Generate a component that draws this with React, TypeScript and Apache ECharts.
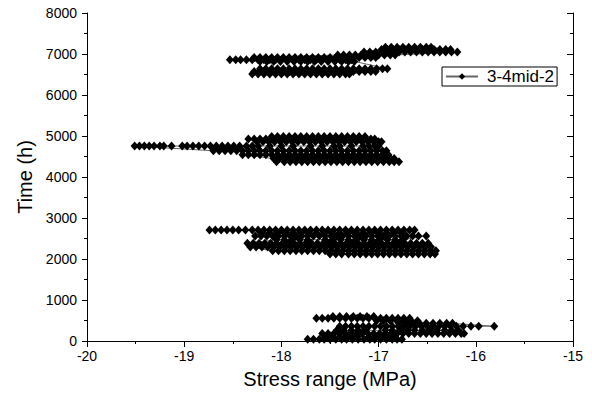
import React, { useEffect, useRef } from "react";
import * as echarts from "echarts";

const seriesName = "3-4mid-2";
const xTicks = { min: -20, max: -15, interval: 1 };
const yTicks = { min: 0, max: 8000, interval: 1000 };

// Each band: [time (h), stress range values (MPa)]
const cluster1: [number, number[]][] = [
  [40, [-17.73, -17.67, -17.61, -17.56, -17.5, -17.44, -17.38, -17.33, -17.27, -17.21, -17.15, -17.09, -17.04, -16.98, -16.92, -16.86, -16.81, -16.76]],
  [105, [-17.53, -17.47, -17.4, -17.34, -17.28, -17.22, -17.1, -17.03, -16.96, -16.89, -16.83]],
  [185, [-17.58, -17.52, -17.46, -17.4, -17.34, -17.29, -17.23, -17.17, -17.11, -17.05, -16.99, -16.93, -16.87, -16.81, -16.75, -16.69, -16.63, -16.57, -16.51, -16.45, -16.39, -16.33, -16.27, -16.21, -16.15, -16.12]],
  [260, [-17.43, -17.36, -17.28, -17.21, -17.14, -16.93, -16.86, -16.78, -16.7, -16.63, -16.55, -16.47, -16.4, -16.32, -16.25, -16.18]],
  [360, [-17.4, -17.34, -17.28, -17.22, -17.16, -17.1, -17.04, -16.98, -16.92, -16.86, -16.8, -16.74, -16.68, -16.62, -16.56, -16.5, -16.44, -16.38, -16.32, -16.26, -16.2, -16.13, -16.05, -15.97, -15.81]],
  [430, [-16.79, -16.72, -16.65, -16.58, -16.51, -16.44, -16.37, -16.3, -16.24]],
  [495, [-17.02, -16.95, -16.88, -16.81, -16.74, -16.67, -16.6]],
  [555, [-17.64, -17.58, -17.52, -17.46, -17.4, -17.34, -17.28, -17.22, -17.16, -17.1, -17.04, -16.98, -16.92, -16.86, -16.8, -16.74, -16.68]],
  [595, [-17.47, -17.4, -17.33, -17.26, -17.19, -17.12, -17.05]],
];

const cluster2: [number, number[]][] = [
  [2120, [-17.5, -17.44, -17.38, -17.31, -17.25, -17.19, -17.13, -17.07, -17.01, -16.95, -16.89, -16.83, -16.77, -16.71, -16.65, -16.59, -16.53, -16.47, -16.42]],
  [2200, [-18.09, -18.03, -17.97, -17.91, -17.85, -17.79, -17.73, -17.67, -17.61, -17.55, -17.49, -17.43, -17.37, -17.31, -17.25, -17.19, -17.13, -17.07, -17.01, -16.95, -16.89, -16.83, -16.77, -16.71, -16.65, -16.59, -16.53, -16.47, -16.41]],
  [2290, [-18.32, -18.26, -18.2, -18.14, -18.08, -18.02, -17.96, -17.9, -17.84, -17.78, -17.72, -17.66, -17.6, -17.54, -17.48, -17.42, -17.36, -17.3, -17.24, -17.18, -17.12, -17.06, -17.0, -16.94, -16.88, -16.82, -16.76, -16.7, -16.64, -16.58, -16.52, -16.46]],
  [2385, [-18.35, -18.29, -18.23, -18.17, -18.11, -18.05, -17.99, -17.93, -17.87, -17.81, -17.75, -17.69, -17.63, -17.57, -17.51, -17.45, -17.39, -17.33, -17.27, -17.21, -17.15, -17.09, -17.03, -16.97, -16.91, -16.85, -16.79, -16.73, -16.67, -16.61, -16.55, -16.49]],
  [2470, [-18.05, -17.97, -17.89, -17.81, -17.73, -17.55, -17.47, -17.39, -17.31, -17.23, -17.15, -17.07, -16.99, -16.91, -16.83, -16.75]],
  [2560, [-18.27, -18.21, -18.15, -18.09, -18.03, -17.97, -17.91, -17.85, -17.79, -17.73, -17.67, -17.61, -17.55, -17.49, -17.43, -17.37, -17.31, -17.25, -17.19, -17.13, -17.07, -17.01, -16.95, -16.89, -16.83, -16.77, -16.71, -16.65, -16.59, -16.51]],
  [2635, [-18.2, -18.12, -18.04, -17.96, -17.88, -17.8, -17.72, -17.64, -17.56, -17.48, -17.4, -17.32, -17.24, -17.16, -17.08, -17.0, -16.92, -16.84, -16.76]],
  [2705, [-18.74, -18.68, -18.62, -18.56, -18.5, -18.44, -18.37, -18.3, -18.24, -18.18, -18.12, -18.06, -18.0, -17.94, -17.88, -17.82, -17.76, -17.7, -17.64, -17.58, -17.52, -17.46, -17.4, -17.34, -17.28, -17.22, -17.16, -17.1, -17.04, -16.98, -16.92, -16.86, -16.8, -16.74, -16.68, -16.63]],
];

const cluster3: [number, number[]][] = [
  [4375, [-18.05, -17.97, -17.91, -17.85, -17.79, -17.73, -17.67, -17.61, -17.55, -17.49, -17.43, -17.37, -17.31, -17.25, -17.19, -17.13, -17.07, -17.01, -16.95, -16.89, -16.84, -16.79]],
  [4450, [-18.08, -18.02, -17.96, -17.9, -17.84, -17.78, -17.72, -17.66, -17.6, -17.54, -17.48, -17.42, -17.36, -17.3, -17.24, -17.18, -17.12, -17.06, -17.0, -16.94, -16.88, -16.84]],
  [4540, [-18.4, -18.34, -18.28, -18.22, -18.16, -18.1, -18.04, -17.98, -17.92, -17.86, -17.8, -17.74, -17.68, -17.62, -17.56, -17.5, -17.44, -17.38, -17.32, -17.26, -17.2, -17.14, -17.08, -17.02, -16.96, -16.9]],
  [4640, [-18.7, -18.64, -18.58, -18.52, -18.46, -18.4, -18.34, -18.28, -18.22, -18.16, -18.1, -18.04, -17.98, -17.92, -17.86, -17.8, -17.74, -17.68, -17.62, -17.56, -17.5, -17.44, -17.38, -17.32, -17.26, -17.2, -17.14, -17.08, -17.02, -16.96, -16.92]],
  [4755, [-19.51, -19.46, -19.41, -19.36, -19.31, -19.25, -19.21, -19.13, -19.02, -18.97, -18.91, -18.85, -18.79, -18.73, -18.67, -18.61, -18.55, -18.49, -18.43, -18.36, -18.3, -18.24, -18.12, -18.0, -17.88, -17.7, -17.58, -17.46, -17.4, -17.28, -17.16, -17.1, -17.04, -17.0]],
  [4860, [-18.25, -18.19, -18.13, -18.07, -18.01, -17.95, -17.89, -17.83, -17.77, -17.71, -17.65, -17.59, -17.53, -17.47, -17.41, -17.35, -17.29, -17.23, -17.17, -17.11, -17.05, -17.0, -16.97]],
  [4925, [-18.34, -18.28, -18.22, -18.16, -18.1, -18.04, -17.98, -17.92, -17.86, -17.8, -17.74, -17.68, -17.62, -17.56, -17.5, -17.44, -17.38, -17.32, -17.26, -17.2, -17.14, -17.08, -17.04]],
  [4990, [-18.1, -18.04, -17.98, -17.92, -17.86, -17.8, -17.74, -17.68, -17.62, -17.56, -17.5, -17.44, -17.38, -17.32, -17.26, -17.2, -17.14]],
];

const cluster4: [number, number[]][] = [
  [6515, [-18.3, -18.24, -18.18, -18.12, -18.06, -18.0, -17.94, -17.88, -17.82, -17.76, -17.7, -17.64, -17.58, -17.52, -17.46, -17.4, -17.34, -17.3]],
  [6575, [-18.28, -18.22, -18.16, -18.1, -18.04, -17.98, -17.92, -17.86, -17.8, -17.74, -17.68, -17.62, -17.56, -17.5, -17.44, -17.38, -17.32, -17.26, -17.2, -17.14, -17.08, -17.03]],
  [6640, [-18.22, -18.16, -18.1, -18.04, -17.98, -17.92, -17.86, -17.8, -17.74, -17.68, -17.62, -17.56, -17.5, -17.44, -17.38, -17.32, -17.26, -17.2, -17.14, -17.08, -17.02, -16.96, -16.91]],
  [6820, [-18.22, -18.15, -18.08, -18.01, -17.94, -17.87, -17.8, -17.73, -17.66, -17.59, -17.52, -17.45, -17.38, -17.31, -17.25]],
  [6860, [-18.53, -18.47, -18.42, -18.36, -18.3, -18.24, -18.18, -18.12, -18.06, -18.0, -17.94, -17.88, -17.82, -17.76, -17.7, -17.64, -17.58, -17.52, -17.46, -17.4, -17.34, -17.28]],
  [6915, [-18.28, -18.22, -18.16, -18.1, -18.04, -17.98, -17.92, -17.86, -17.8, -17.74, -17.68, -17.62, -17.56, -17.5, -17.44, -17.38, -17.32, -17.26, -17.2, -17.14, -17.08, -17.03]],
  [6975, [-17.42, -17.36, -17.3, -17.24, -17.18, -17.12, -17.06, -17.0, -16.94, -16.88, -16.83]],
  [7050, [-17.15, -17.09, -17.03, -16.97, -16.91, -16.85, -16.79, -16.73, -16.67, -16.61, -16.55, -16.49, -16.43, -16.37, -16.31, -16.25, -16.19]],
  [7110, [-16.97, -16.91, -16.85, -16.79, -16.73, -16.67, -16.61, -16.55, -16.49, -16.43, -16.37, -16.31, -16.26]],
  [7165, [-16.93, -16.87, -16.81, -16.75, -16.69, -16.63, -16.57, -16.51, -16.46]],
];

const clusters = [cluster1, cluster2, cluster3, cluster4];

function toPoints(bands: [number, number[]][]): number[][] {
  const pts: number[][] = [];
  bands.forEach(([t, stresses], i) => {
    const ordered = i % 2 === 0 ? stresses : [...stresses].reverse();
    ordered.forEach((s) => pts.push([s, t]));
  });
  return pts;
}

const FONT = "'Liberation Sans', Arial, sans-serif";

export default function App() {
  const ref = useRef<HTMLDivElement>(null);
  useEffect(() => {
    if (!ref.current) return;
    const chart = echarts.init(ref.current, undefined, { renderer: "svg" });
    const axisLine = { show: true, lineStyle: { color: "#000", width: 1 } };
    const plain = (v: number) => String(v);
    const series = clusters.map((c) => ({
      name: seriesName,
      type: "line",
      data: toPoints(c),
      symbol: "diamond",
      symbolSize: [8, 9],
      showAllSymbol: true,
      itemStyle: { color: "#000" },
      lineStyle: { color: "#666", width: 1 },
      emphasis: { disabled: true },
    }));
    chart.setOption({
      animation: false,
      textStyle: { fontFamily: FONT },
      grid: { left: 87, right: 19, top: 13, bottom: 56, containLabel: false },
      legend: {
        data: [seriesName],
        left: 442,
        top: 67,
        borderColor: "#000",
        borderWidth: 1,
        borderRadius: 0,
        padding: [1, 3, 1, 3],
        itemWidth: 32,
        itemHeight: 8,
        textStyle: { fontFamily: FONT, fontSize: 17, color: "#000", padding: [0, 0, 0, 4] },
      },
      xAxis: [
        {
          type: "value",
          position: "bottom",
          min: xTicks.min,
          max: xTicks.max,
          interval: xTicks.interval,
          name: "Stress range (MPa)",
          nameLocation: "middle",
          nameGap: 28,
          nameTextStyle: { fontFamily: FONT, fontSize: 20, color: "#000" },
          axisLine,
          axisTick: { show: true, inside: false, length: 5, lineStyle: { color: "#000" } },
          minorTick: { show: true, splitNumber: 2, length: 3, lineStyle: { color: "#000" } },
          axisLabel: { fontFamily: FONT, fontSize: 14, color: "#000", margin: 8, formatter: plain },
          splitLine: { show: false },
        },
        {
          type: "value",
          position: "top",
          min: xTicks.min,
          max: xTicks.max,
          interval: xTicks.interval,
          axisLine,
          axisTick: { show: true, inside: true, length: 6, lineStyle: { color: "#000" } },
          minorTick: { show: true, splitNumber: 2, length: 3, lineStyle: { color: "#000" } },
          axisLabel: { show: false },
          splitLine: { show: false },
        },
      ],
      yAxis: [
        {
          type: "value",
          position: "left",
          min: yTicks.min,
          max: yTicks.max,
          interval: yTicks.interval,
          name: "Time (h)",
          nameLocation: "middle",
          nameGap: 46,
          nameTextStyle: { fontFamily: FONT, fontSize: 20, color: "#000" },
          axisLine,
          axisTick: { show: true, inside: false, length: 5, lineStyle: { color: "#000" } },
          minorTick: { show: true, splitNumber: 2, length: 3, lineStyle: { color: "#000" } },
          axisLabel: { fontFamily: FONT, fontSize: 14, color: "#000", margin: 10, formatter: plain },
          splitLine: { show: false },
        },
        {
          type: "value",
          position: "right",
          min: yTicks.min,
          max: yTicks.max,
          interval: yTicks.interval,
          axisLine,
          axisTick: { show: true, inside: true, length: 6, lineStyle: { color: "#000" } },
          minorTick: { show: true, splitNumber: 2, length: 3, lineStyle: { color: "#000" } },
          axisLabel: { show: false },
          splitLine: { show: false },
        },
      ],
      series,
    });
    return () => chart.dispose();
  }, []);
  return <div ref={ref} style={{ width: 592, height: 397, position: "absolute", left: 0, top: 0 }} />;
}
